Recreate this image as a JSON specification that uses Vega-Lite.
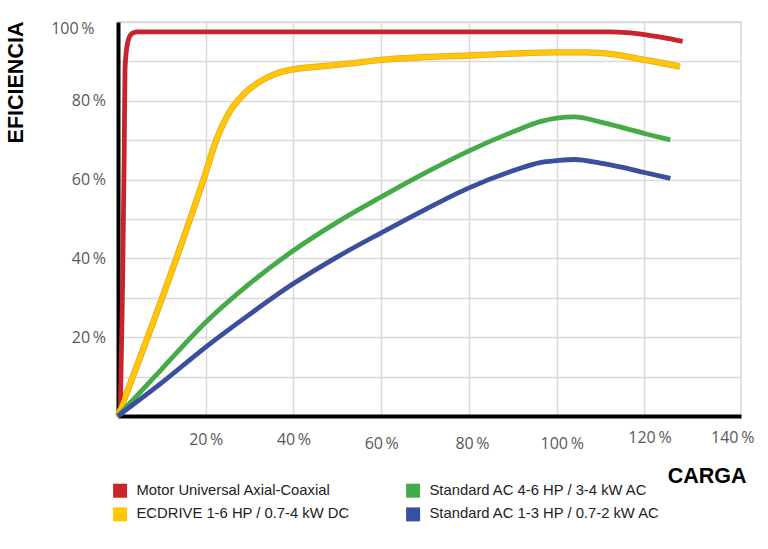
{
  "$schema": "https://vega.github.io/schema/vega-lite/v6.json",
  "width": 623,
  "height": 394,
  "autosize": "none",
  "padding": {"left": 118, "top": 22, "right": 27, "bottom": 133},
  "background": "white",
  "config": {
    "view": {"stroke": "#d9d9d9", "strokeWidth": 1.5},
    "axis": {
      "labelFont": "Open Sans",
      "labelFontSize": 16,
      "labelColor": "#595959",
      "domainColor": "#000000",
      "domainWidth": 4,
      "ticks": false,
      "tickSize": 0,
      "gridWidth": 1.5,
      "titleFont": "Liberation Sans",
      "titleFontWeight": "bold",
      "titleFontSize": 21.5,
      "titleColor": "#000000"
    }
  },
  "data": {
    "values": [
      {"serie": "Motor Universal Axial-Coaxial", "carga": 0.5, "eficiencia": 0},
      {"serie": "Motor Universal Axial-Coaxial", "carga": 1.0, "eficiencia": 30},
      {"serie": "Motor Universal Axial-Coaxial", "carga": 1.4, "eficiencia": 65},
      {"serie": "Motor Universal Axial-Coaxial", "carga": 1.6, "eficiencia": 88},
      {"serie": "Motor Universal Axial-Coaxial", "carga": 2.0, "eficiencia": 93.5},
      {"serie": "Motor Universal Axial-Coaxial", "carga": 2.6, "eficiencia": 96.2},
      {"serie": "Motor Universal Axial-Coaxial", "carga": 3.5, "eficiencia": 97.3},
      {"serie": "Motor Universal Axial-Coaxial", "carga": 4.5, "eficiencia": 97.5},
      {"serie": "Motor Universal Axial-Coaxial", "carga": 40, "eficiencia": 97.5},
      {"serie": "Motor Universal Axial-Coaxial", "carga": 80, "eficiencia": 97.5},
      {"serie": "Motor Universal Axial-Coaxial", "carga": 112, "eficiencia": 97.5},
      {"serie": "Motor Universal Axial-Coaxial", "carga": 116, "eficiencia": 97.3},
      {"serie": "Motor Universal Axial-Coaxial", "carga": 120, "eficiencia": 96.8},
      {"serie": "Motor Universal Axial-Coaxial", "carga": 124, "eficiencia": 96.1},
      {"serie": "Motor Universal Axial-Coaxial", "carga": 128.7, "eficiencia": 95.1},

      {"serie": "ECDRIVE 1-6 HP / 0.7-4 kW DC", "carga": 0, "eficiencia": 0},
      {"serie": "ECDRIVE 1-6 HP / 0.7-4 kW DC", "carga": 13.3, "eficiencia": 40},
      {"serie": "ECDRIVE 1-6 HP / 0.7-4 kW DC", "carga": 19.5, "eficiencia": 60},
      {"serie": "ECDRIVE 1-6 HP / 0.7-4 kW DC", "carga": 22.4, "eficiencia": 70},
      {"serie": "ECDRIVE 1-6 HP / 0.7-4 kW DC", "carga": 25.6, "eficiencia": 77.5},
      {"serie": "ECDRIVE 1-6 HP / 0.7-4 kW DC", "carga": 28.7, "eficiencia": 81.7},
      {"serie": "ECDRIVE 1-6 HP / 0.7-4 kW DC", "carga": 32.5, "eficiencia": 85},
      {"serie": "ECDRIVE 1-6 HP / 0.7-4 kW DC", "carga": 36.3, "eficiencia": 87},
      {"serie": "ECDRIVE 1-6 HP / 0.7-4 kW DC", "carga": 40, "eficiencia": 88},
      {"serie": "ECDRIVE 1-6 HP / 0.7-4 kW DC", "carga": 46, "eficiencia": 88.7},
      {"serie": "ECDRIVE 1-6 HP / 0.7-4 kW DC", "carga": 53, "eficiencia": 89.5},
      {"serie": "ECDRIVE 1-6 HP / 0.7-4 kW DC", "carga": 60, "eficiencia": 90.4},
      {"serie": "ECDRIVE 1-6 HP / 0.7-4 kW DC", "carga": 70, "eficiencia": 91.1},
      {"serie": "ECDRIVE 1-6 HP / 0.7-4 kW DC", "carga": 80, "eficiencia": 91.5},
      {"serie": "ECDRIVE 1-6 HP / 0.7-4 kW DC", "carga": 90, "eficiencia": 92},
      {"serie": "ECDRIVE 1-6 HP / 0.7-4 kW DC", "carga": 100, "eficiencia": 92.3},
      {"serie": "ECDRIVE 1-6 HP / 0.7-4 kW DC", "carga": 106.5, "eficiencia": 92.3},
      {"serie": "ECDRIVE 1-6 HP / 0.7-4 kW DC", "carga": 113, "eficiencia": 91.8},
      {"serie": "ECDRIVE 1-6 HP / 0.7-4 kW DC", "carga": 120, "eficiencia": 90.4},
      {"serie": "ECDRIVE 1-6 HP / 0.7-4 kW DC", "carga": 124, "eficiencia": 89.6},
      {"serie": "ECDRIVE 1-6 HP / 0.7-4 kW DC", "carga": 128.1, "eficiencia": 88.7},

      {"serie": "Standard AC 4-6 HP / 3-4 kW AC", "carga": 0, "eficiencia": 0},
      {"serie": "Standard AC 4-6 HP / 3-4 kW AC", "carga": 9.7, "eficiencia": 11.6},
      {"serie": "Standard AC 4-6 HP / 3-4 kW AC", "carga": 20, "eficiencia": 23.8},
      {"serie": "Standard AC 4-6 HP / 3-4 kW AC", "carga": 30, "eficiencia": 33.6},
      {"serie": "Standard AC 4-6 HP / 3-4 kW AC", "carga": 40, "eficiencia": 42},
      {"serie": "Standard AC 4-6 HP / 3-4 kW AC", "carga": 50, "eficiencia": 49.2},
      {"serie": "Standard AC 4-6 HP / 3-4 kW AC", "carga": 60, "eficiencia": 55.6},
      {"serie": "Standard AC 4-6 HP / 3-4 kW AC", "carga": 70, "eficiencia": 61.7},
      {"serie": "Standard AC 4-6 HP / 3-4 kW AC", "carga": 80, "eficiencia": 67.3},
      {"serie": "Standard AC 4-6 HP / 3-4 kW AC", "carga": 90.2, "eficiencia": 72.2},
      {"serie": "Standard AC 4-6 HP / 3-4 kW AC", "carga": 96.2, "eficiencia": 74.7},
      {"serie": "Standard AC 4-6 HP / 3-4 kW AC", "carga": 100, "eficiencia": 75.6},
      {"serie": "Standard AC 4-6 HP / 3-4 kW AC", "carga": 104, "eficiencia": 75.9},
      {"serie": "Standard AC 4-6 HP / 3-4 kW AC", "carga": 110, "eficiencia": 74.6},
      {"serie": "Standard AC 4-6 HP / 3-4 kW AC", "carga": 115, "eficiencia": 73.2},
      {"serie": "Standard AC 4-6 HP / 3-4 kW AC", "carga": 120, "eficiencia": 71.7},
      {"serie": "Standard AC 4-6 HP / 3-4 kW AC", "carga": 125.9, "eficiencia": 70.1},

      {"serie": "Standard AC 1-3 HP / 0.7-2 kW AC", "carga": 0, "eficiencia": 0},
      {"serie": "Standard AC 1-3 HP / 0.7-2 kW AC", "carga": 9.7, "eficiencia": 8.2},
      {"serie": "Standard AC 1-3 HP / 0.7-2 kW AC", "carga": 20, "eficiencia": 17.5},
      {"serie": "Standard AC 1-3 HP / 0.7-2 kW AC", "carga": 30, "eficiencia": 25.8},
      {"serie": "Standard AC 1-3 HP / 0.7-2 kW AC", "carga": 40, "eficiencia": 33.6},
      {"serie": "Standard AC 1-3 HP / 0.7-2 kW AC", "carga": 50, "eficiencia": 40.4},
      {"serie": "Standard AC 1-3 HP / 0.7-2 kW AC", "carga": 60, "eficiencia": 46.5},
      {"serie": "Standard AC 1-3 HP / 0.7-2 kW AC", "carga": 70, "eficiencia": 52.4},
      {"serie": "Standard AC 1-3 HP / 0.7-2 kW AC", "carga": 80, "eficiencia": 57.9},
      {"serie": "Standard AC 1-3 HP / 0.7-2 kW AC", "carga": 90.2, "eficiencia": 62.3},
      {"serie": "Standard AC 1-3 HP / 0.7-2 kW AC", "carga": 96.2, "eficiencia": 64.3},
      {"serie": "Standard AC 1-3 HP / 0.7-2 kW AC", "carga": 100, "eficiencia": 64.8},
      {"serie": "Standard AC 1-3 HP / 0.7-2 kW AC", "carga": 104, "eficiencia": 65.1},
      {"serie": "Standard AC 1-3 HP / 0.7-2 kW AC", "carga": 110, "eficiencia": 64.2},
      {"serie": "Standard AC 1-3 HP / 0.7-2 kW AC", "carga": 115, "eficiencia": 63.1},
      {"serie": "Standard AC 1-3 HP / 0.7-2 kW AC", "carga": 120, "eficiencia": 61.8},
      {"serie": "Standard AC 1-3 HP / 0.7-2 kW AC", "carga": 125.9, "eficiencia": 60.3}
    ]
  },
  "encoding": {
    "x": {
      "field": "carga",
      "type": "quantitative",
      "scale": {"domain": [0, 142], "nice": false, "zero": true},
      "axis": {
        "values": [20, 40, 60, 80, 100, 120, 140],
        "labelExpr": "datum.value + '\u2009%'",
        "grid": true,
        "gridColor": {"condition": {"test": "datum.value === 140", "value": "transparent"}, "value": "#d9d9d9"},
        "labelPadding": {"condition": [{"test": "datum.value >= 60 && datum.value <= 100", "value": 19}, {"test": "datum.value >= 120", "value": 13.5}], "value": 15}, 
        "labelOffset": {"condition": [{"test": "datum.value >= 100 && datum.value <= 120", "value": 5}, {"test": "datum.value == 80", "value": 3}], "value": 0},
        "title": "CARGA",
        "titleX": 628,
        "titleY": 66,
        "titleAlign": "right",
        "titleAnchor": null,
        "titleBaseline": "alphabetic"
      }
    },
    "y": {
      "field": "eficiencia",
      "type": "quantitative",
      "scale": {"domain": [0, 100], "nice": false},
      "axis": {
        "values": [10, 20, 30, 40, 50, 60, 70, 80, 90, 100],
        "labelExpr": "datum.value % 20 === 0 ? datum.value + '\u2009%' : ''",
        "grid": true,
        "gridColor": "#d9d9d9",
        "labelPadding": {"condition": {"test": "datum.value === 100", "value": 24}, "value": 12.5},
        "labelOffset": {"condition": {"test": "datum.value === 100", "value": 6}, "value": 0},
        "title": "EFICIENCIA",
        "titleX": -102,
        "titleY": 60,
        "titleAngle": -90,
        "titleAlign": "center",
        "titleAnchor": null,
        "titleBaseline": "middle"
      }
    }
  },
  "layer": [
    {
      "transform": [{"filter": "datum.serie === 'ECDRIVE 1-6 HP / 0.7-4 kW DC'"}],
      "mark": {"type": "line", "interpolate": "monotone", "color": "#E9A81C", "strokeWidth": 6.4}
    },
    {
      "mark": {"type": "line", "interpolate": "monotone", "strokeWidth": 4.8},
      "encoding": {
        "color": {
          "field": "serie",
          "type": "nominal",
          "scale": {
            "domain": ["Motor Universal Axial-Coaxial", "ECDRIVE 1-6 HP / 0.7-4 kW DC", "Standard AC 4-6 HP / 3-4 kW AC", "Standard AC 1-3 HP / 0.7-2 kW AC"],
            "range": ["#C9232D", "#FFC60A", "#45AA48", "#3B4F9F"]
          },
          "legend": {
            "title": null,
            "orient": "none",
            "legendX": -5.3,
            "legendY": 461,
            "columns": 2,
            "columnPadding": 56,
            "rowPadding": 8,
            "padding": 0,
            "symbolType": "square",
            "symbolSize": 196,
            "symbolStrokeWidth": 0,
            "labelFont": "Liberation Sans",
            "labelFontSize": 14.8,
            "labelColor": "#222222",
            "labelOffset": 9,
            "labelLimit": 400,
            "encode": {
              "symbols": {"update": {"fill": {"scale": "color", "field": "value"}, "strokeWidth": {"value": 0}, "opacity": {"value": 1}}}
            }
          }
        }
      }
    }
  ]
}
